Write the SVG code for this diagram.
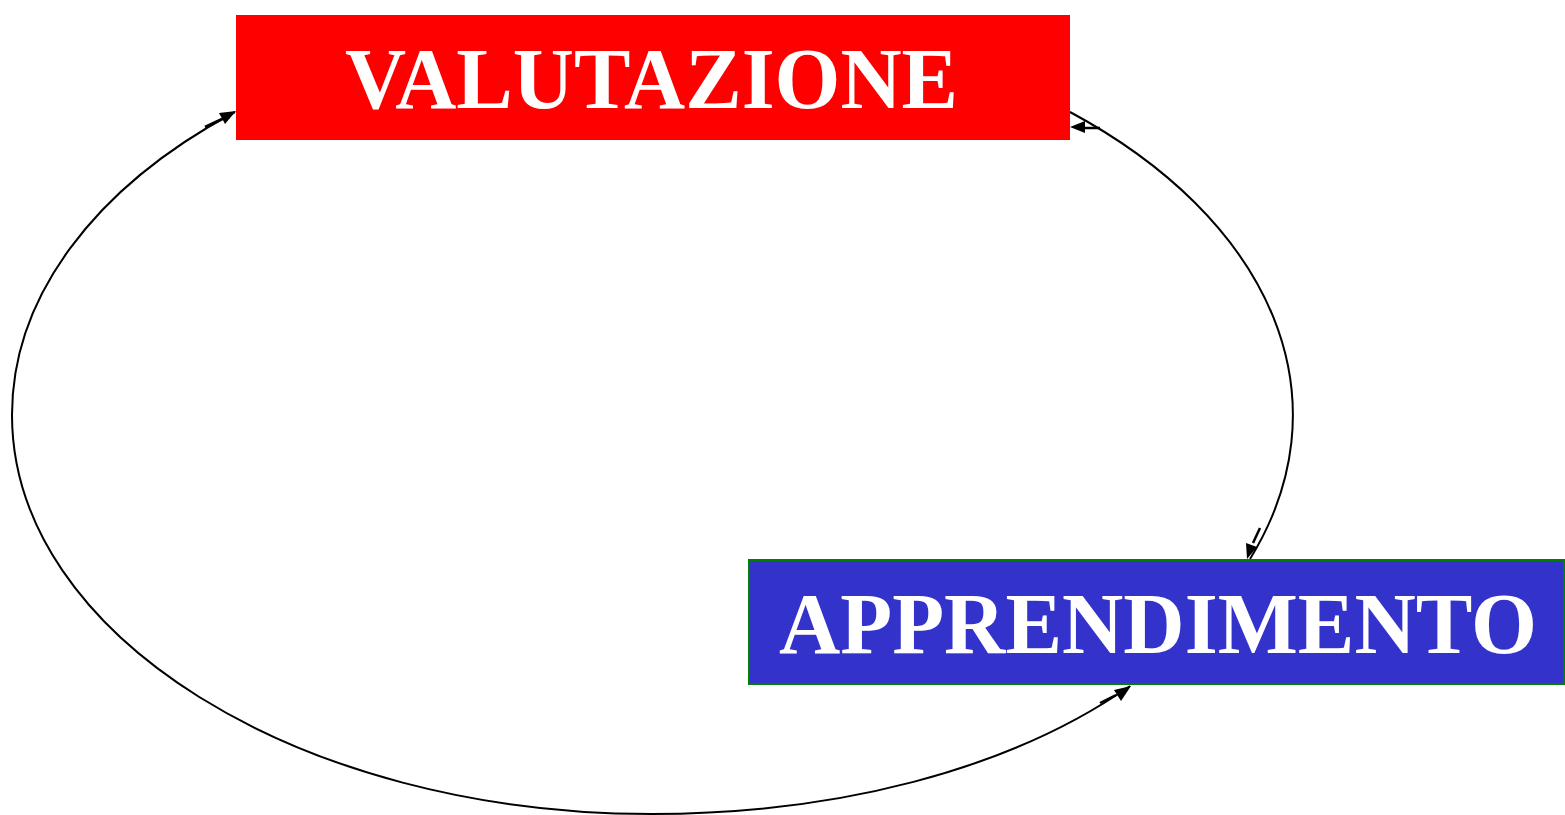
<svg xmlns="http://www.w3.org/2000/svg" width="1565" height="815" viewBox="0 0 1565 815">
<style>
.lbl{font-family:"Liberation Serif","Times New Roman",serif;font-weight:bold;font-size:86px;fill:#fff;text-anchor:middle}
.edge{fill:none;stroke:#000;stroke-width:2}
.head{fill:#000}
.stem{stroke:#000;stroke-width:2.5}
</style>
<rect width="1565" height="815" fill="#fff"/>
<g id="connectors">
<path class="edge" d="M1070,112 A641,400 0 0,1 1250,559"/>
<path class="edge" d="M1130,686 C1008,771 834,814 652,814 C298,814 12,635 12,415 C12,298 93,188 235,112"/>
<line class="stem" x1="205" y1="127" x2="222" y2="119"/>
<polygon class="head" points="236,111 219,113 225,124"/>
<line class="stem" x1="1100" y1="128" x2="1082" y2="128"/>
<polygon class="head" points="1070,127 1085,121 1085,133"/>
<line class="stem" x1="1260" y1="528" x2="1253" y2="543"/>
<polygon class="head" points="1247,559 1246,543 1257,547"/>
<line class="stem" x1="1100" y1="703" x2="1116" y2="695"/>
<polygon class="head" points="1131,686 1121,701 1114,690"/>
</g>
<g id="valutazione">
<rect x="236" y="15" width="834" height="125" fill="#ff0000"/>
<text class="lbl" x="651.5" y="108" textLength="613" lengthAdjust="spacingAndGlyphs">VALUTAZIONE</text>
</g>
<g id="apprendimento">
<rect x="749" y="560" width="815" height="124" fill="#3333cc" stroke="#008000" stroke-width="2"/>
<text class="lbl" x="1158" y="653" textLength="758" lengthAdjust="spacingAndGlyphs">APPRENDIMENTO</text>
</g>
</svg>
